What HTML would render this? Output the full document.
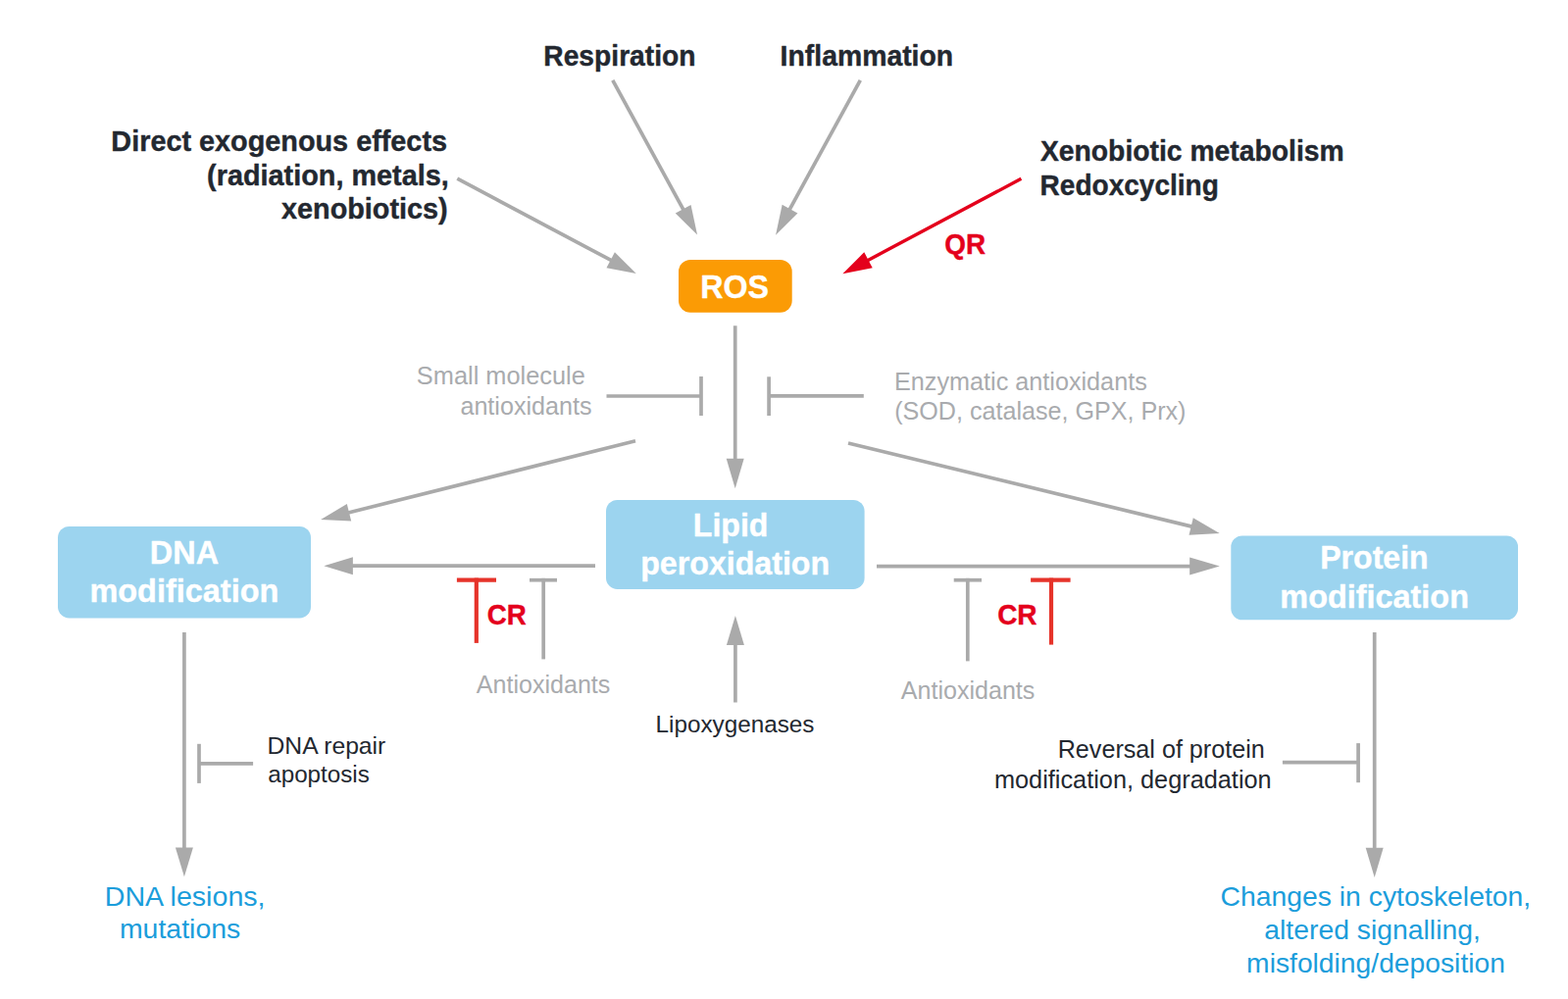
<!DOCTYPE html>
<html lang="en">
<head>
<meta charset="utf-8">
<title>ROS pathways</title>
<style>
html,body{margin:0;padding:0;background:#ffffff;}
body{width:1599px;height:1019px;overflow:hidden;}
svg{display:block;font-family:"Liberation Sans",sans-serif;}
text{white-space:pre;}
</style>
</head>
<body>
<svg role="img" aria-label="Sources and consequences of reactive oxygen species" width="1599" height="1019" viewBox="0 0 1599 1019">
<rect x="0" y="0" width="1599" height="1019" fill="#ffffff"/>
<g>
<line x1="624.8" y1="81.9" x2="697.61" y2="215.02" stroke="#aaaaaa" stroke-width="3.7"/>
<polygon points="711.05,239.59 688.76,217.59 704.55,208.95" fill="#aaaaaa"/>
<line x1="877.3" y1="81.8" x2="804.58" y2="214.92" stroke="#aaaaaa" stroke-width="3.7"/>
<polygon points="791.06,239.66 797.64,208.85 813.43,217.48" fill="#aaaaaa"/>
<line x1="466.3" y1="182.2" x2="624.46" y2="266.21" stroke="#aaaaaa" stroke-width="3.7"/>
<polygon points="648.75,279.11 618.47,273.22 626.92,257.33" fill="#aaaaaa"/>
<line x1="1041.4" y1="182.3" x2="883.73" y2="266.19" stroke="#e4001c" stroke-width="3.4"/>
<polygon points="859.36,279.16 881.27,257.31 889.72,273.2" fill="#e4001c"/>
<line x1="749.7" y1="332.3" x2="749.7" y2="469.7" stroke="#aaaaaa" stroke-width="3.7"/>
<polygon points="749.7,498.3 740.7,467.7 758.7,467.7" fill="#aaaaaa"/>
<line x1="648" y1="449.7" x2="354.07" y2="523.23" stroke="#aaaaaa" stroke-width="3.7"/>
<polygon points="327.1,529.98 353.82,514.01 358.19,531.47" fill="#aaaaaa"/>
<line x1="865" y1="452" x2="1216.59" y2="537.41" stroke="#aaaaaa" stroke-width="3.7"/>
<polygon points="1243.7,544 1212.52,545.69 1216.77,528.2" fill="#aaaaaa"/>
<line x1="607" y1="577.2" x2="357.9" y2="577.2" stroke="#aaaaaa" stroke-width="3.7"/>
<polygon points="330.3,577.2 359.9,568.2 359.9,586.2" fill="#aaaaaa"/>
<line x1="894" y1="577.6" x2="1215.2" y2="577.6" stroke="#aaaaaa" stroke-width="3.7"/>
<polygon points="1243.8,577.6 1213.2,586.6 1213.2,568.6" fill="#aaaaaa"/>
<line x1="749.9" y1="716.5" x2="749.9" y2="655.9" stroke="#aaaaaa" stroke-width="3.7"/>
<polygon points="749.9,627.9 758.9,657.9 740.9,657.9" fill="#aaaaaa"/>
<line x1="187.9" y1="645" x2="187.9" y2="866.5" stroke="#aaaaaa" stroke-width="3.7"/>
<polygon points="187.9,894.3 178.9,864.5 196.9,864.5" fill="#aaaaaa"/>
<line x1="1401.7" y1="645" x2="1401.7" y2="866.8" stroke="#aaaaaa" stroke-width="3.7"/>
<polygon points="1401.7,895 1392.7,864.8 1410.7,864.8" fill="#aaaaaa"/>
<line x1="618.5" y1="404" x2="715" y2="404" stroke="#aaaaaa" stroke-width="3.7"/>
<line x1="715" y1="384" x2="715" y2="424" stroke="#aaaaaa" stroke-width="3.7"/>
<line x1="880.8" y1="403.8" x2="784.1" y2="403.8" stroke="#aaaaaa" stroke-width="3.7"/>
<line x1="784.1" y1="384.3" x2="784.1" y2="424" stroke="#aaaaaa" stroke-width="3.7"/>
<line x1="258.1" y1="778.8" x2="203" y2="778.8" stroke="#aaaaaa" stroke-width="3.7"/>
<line x1="203" y1="758.8" x2="203" y2="798.9" stroke="#aaaaaa" stroke-width="3.7"/>
<line x1="1307.9" y1="777.6" x2="1385.1" y2="777.6" stroke="#aaaaaa" stroke-width="3.7"/>
<line x1="1385.1" y1="758.1" x2="1385.1" y2="798.2" stroke="#aaaaaa" stroke-width="3.7"/>
<line x1="465.9" y1="591.7" x2="506" y2="591.7" stroke="#e6332a" stroke-width="4.2"/>
<line x1="485.8" y1="589.6" x2="485.8" y2="655.9" stroke="#e6332a" stroke-width="4.2"/>
<line x1="540" y1="591.7" x2="568" y2="591.7" stroke="#aaaaaa" stroke-width="3.7"/>
<line x1="554.2" y1="589.85" x2="554.2" y2="672.4" stroke="#aaaaaa" stroke-width="3.7"/>
<line x1="972.7" y1="591.7" x2="1001" y2="591.7" stroke="#aaaaaa" stroke-width="3.7"/>
<line x1="986.8" y1="589.85" x2="986.8" y2="674.4" stroke="#aaaaaa" stroke-width="3.7"/>
<line x1="1051.1" y1="591.7" x2="1091.6" y2="591.7" stroke="#e6332a" stroke-width="4.2"/>
<line x1="1072" y1="589.6" x2="1072" y2="657.6" stroke="#e6332a" stroke-width="4.2"/>
<rect x="692" y="265.1" width="115.7" height="53.7" rx="12" ry="12" fill="#fb9b05"/>
<rect x="59" y="537" width="258" height="93.4" rx="11.5" ry="11.5" fill="#9cd4ef"/>
<rect x="618" y="510" width="263.6" height="90.9" rx="11.5" ry="11.5" fill="#9cd4ef"/>
<rect x="1255.3" y="546.5" width="292.7" height="85.8" rx="11.5" ry="11.5" fill="#9cd4ef"/>
</g>
<g>
<text transform="translate(554.31 67.3) scale(0.9666 1)" font-size="29.2" fill="#232830" stroke="#232830" stroke-width="0.4" stroke-linejoin="round" font-weight="bold">Respiration</text>
<text transform="translate(795.6 67.3) scale(0.9722 1)" font-size="29.2" fill="#232830" stroke="#232830" stroke-width="0.4" stroke-linejoin="round" font-weight="bold">Inflammation</text>
<text transform="translate(113.37 153.8) scale(0.9871 1)" font-size="29.2" fill="#232830" stroke="#232830" stroke-width="0.4" stroke-linejoin="round" font-weight="bold">Direct exogenous effects</text>
<text transform="translate(211.12 188.7) scale(0.9874 1)" font-size="29.2" fill="#232830" stroke="#232830" stroke-width="0.4" stroke-linejoin="round" font-weight="bold">(radiation, metals,</text>
<text transform="translate(287.1 222.6) scale(0.9862 1)" font-size="29.2" fill="#232830" stroke="#232830" stroke-width="0.4" stroke-linejoin="round" font-weight="bold">xenobiotics)</text>
<text transform="translate(1060.95 163.7) scale(0.9690 1)" font-size="29.2" fill="#232830" stroke="#232830" stroke-width="0.4" stroke-linejoin="round" font-weight="bold">Xenobiotic metabolism</text>
<text transform="translate(1060.62 199.3) scale(0.9595 1)" font-size="29.2" fill="#232830" stroke="#232830" stroke-width="0.4" stroke-linejoin="round" font-weight="bold">Redoxcycling</text>
<text transform="translate(963.25 259.1) scale(0.9450 1)" font-size="29.5" fill="#e4001c" stroke="#e4001c" stroke-width="0.4" stroke-linejoin="round" font-weight="bold">QR</text>
<text transform="translate(496.65 637.3) scale(0.9497 1)" font-size="29.2" fill="#e4001c" stroke="#e4001c" stroke-width="0.4" stroke-linejoin="round" font-weight="bold">CR</text>
<text transform="translate(1017.14 637.3) scale(0.9595 1)" font-size="29.2" fill="#e4001c" stroke="#e4001c" stroke-width="0.4" stroke-linejoin="round" font-weight="bold">CR</text>
<text transform="translate(714.3 304.3) scale(0.9475 1)" font-size="34" fill="#ffffff" stroke="#ffffff" stroke-width="0.4" stroke-linejoin="round" font-weight="bold">ROS</text>
<text transform="translate(152.85 574.5) scale(0.9762 1)" font-size="33.2" fill="#ffffff" stroke="#ffffff" stroke-width="0.4" stroke-linejoin="round" font-weight="bold">DNA</text>
<text transform="translate(91.41 614.1) scale(0.9960 1)" font-size="32.6" fill="#ffffff" stroke="#ffffff" stroke-width="0.4" stroke-linejoin="round" font-weight="bold">modification</text>
<text transform="translate(706.83 546.6) scale(0.9844 1)" font-size="32.6" fill="#ffffff" stroke="#ffffff" stroke-width="0.4" stroke-linejoin="round" font-weight="bold">Lipid</text>
<text transform="translate(653.13 585.7) scale(0.9872 1)" font-size="32.6" fill="#ffffff" stroke="#ffffff" stroke-width="0.4" stroke-linejoin="round" font-weight="bold">peroxidation</text>
<text transform="translate(1346.23 579.8) scale(0.9834 1)" font-size="32.6" fill="#ffffff" stroke="#ffffff" stroke-width="0.4" stroke-linejoin="round" font-weight="bold">Protein</text>
<text transform="translate(1305.31 619.9) scale(0.9945 1)" font-size="32.6" fill="#ffffff" stroke="#ffffff" stroke-width="0.4" stroke-linejoin="round" font-weight="bold">modification</text>
<text transform="translate(424.86 391.5) scale(0.9912 1)" font-size="25.6" fill="#a9abae">Small molecule</text>
<text transform="translate(469.42 423) scale(0.9822 1)" font-size="25.6" fill="#a9abae">antioxidants</text>
<text transform="translate(912.03 398.3) scale(0.9851 1)" font-size="25.6" fill="#a9abae">Enzymatic antioxidants</text>
<text transform="translate(912.13 428.2) scale(0.9815 1)" font-size="25.6" fill="#a9abae">(SOD, catalase, GPX, Prx)</text>
<text transform="translate(485.8 706.9) scale(0.9791 1)" font-size="25.6" fill="#a9abae">Antioxidants</text>
<text transform="translate(918.8 712.9) scale(0.9791 1)" font-size="25.6" fill="#a9abae">Antioxidants</text>
<text transform="translate(668.54 746.9) scale(0.9797 1)" font-size="24.8" fill="#232830">Lipoxygenases</text>
<text transform="translate(272.51 768.6) scale(0.9962 1)" font-size="24.8" fill="#232830">DNA repair</text>
<text transform="translate(273.22 798.2) scale(0.9765 1)" font-size="24.8" fill="#232830">apoptosis</text>
<text transform="translate(1078.71 773.1) scale(0.9940 1)" font-size="25.3" fill="#232830">Reversal of protein</text>
<text transform="translate(1013.95 803.8) scale(1.0002 1)" font-size="25.3" fill="#232830">modification, degradation</text>
<text transform="translate(106.72 923.9) scale(1.0118 1)" font-size="28.3" fill="#1b9ddb">DNA lesions,</text>
<text transform="translate(121.89 957.2) scale(1.0058 1)" font-size="28.3" fill="#1b9ddb">mutations</text>
<text transform="translate(1244.5 923.5) scale(1.0021 1)" font-size="28.3" fill="#1b9ddb">Changes in cytoskeleton,</text>
<text transform="translate(1289.25 957.8) scale(1.0021 1)" font-size="28.3" fill="#1b9ddb">altered signalling,</text>
<text transform="translate(1271.1 991.6) scale(0.9990 1)" font-size="28.3" fill="#1b9ddb">misfolding/deposition</text>
</g>
</svg>
</body>
</html>
